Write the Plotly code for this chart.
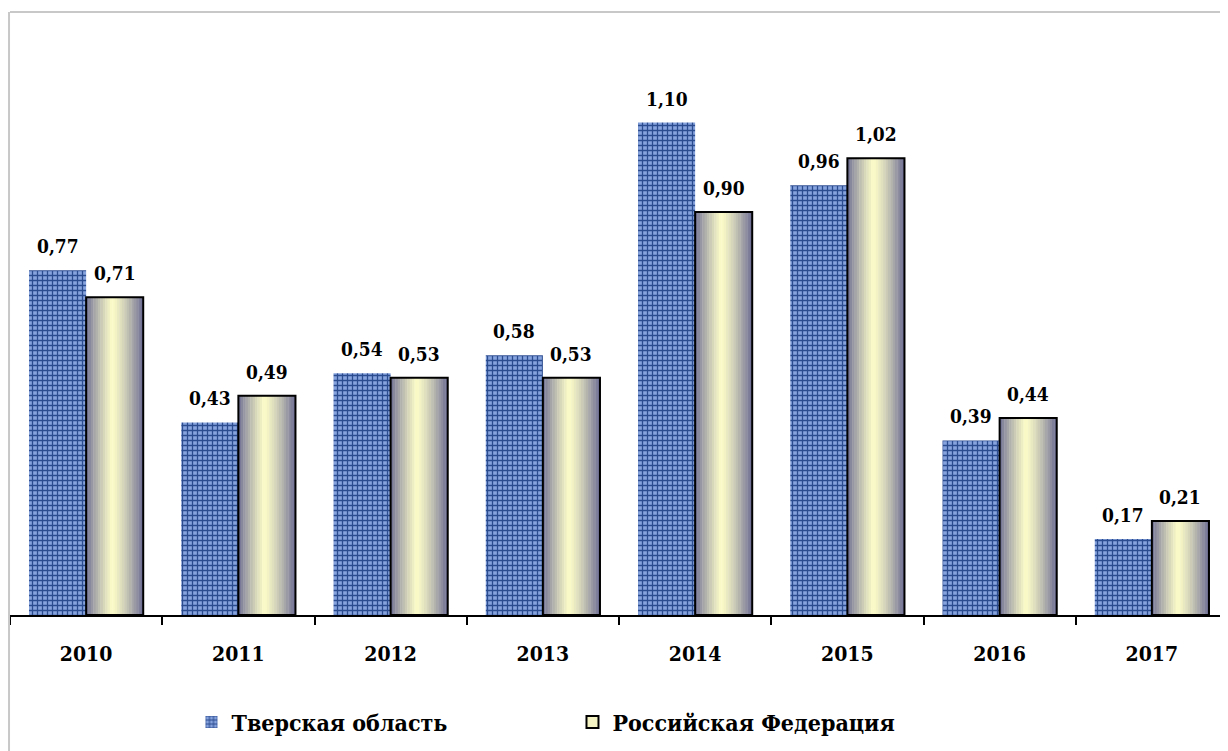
import plotly.graph_objs as go

# Data
years = ['2010', '2011', '2012', '2013', '2014', '2015', '2016', '2017']
tver = [0.77, 0.43, 0.54, 0.58, 1.10, 0.96, 0.39, 0.17]
russia = [0.71, 0.49, 0.53, 0.53, 0.90, 1.02, 0.44, 0.21]
series_names = ['Тверская область', 'Российская Федерация']

FONT = 'DejaVu Serif Condensed'
BAR_W = 0.375


def mix(c1, c2, t):
    return '#%02x%02x%02x' % tuple(int(round(a + (b - a) * t)) for a, b in zip(c1, c2))


def gradient_color(t):
    # dark slate at the edges, pale yellow a bit left of centre
    edge = (0x6a, 0x6a, 0x92)
    mid = (0xfc, 0xfc, 0xc8)
    peak = 0.45
    if t < peak:
        return mix(edge, mid, (t / peak) ** 0.8)
    return mix(mid, edge, ((t - peak) / (1 - peak)) ** 1.3)


traces = []

# Tver region: textured blue bars
traces.append(go.Bar(x=years, y=tver, name='<b>' + series_names[0] + '</b>',
                     offset=-BAR_W, width=BAR_W,
                     marker=dict(color='#7f9bd8',
                                 line=dict(width=0),
                                 pattern=dict(shape='+', size=5, solidity=0.45,
                                              bgcolor='#86a3de', fgcolor='#2c4c90',
                                              fillmode='replace')),
                     hoverinfo='skip'))

# Russian Federation: horizontal gradient built from thin strips
n_strips = 24
sw = BAR_W / n_strips
for k in range(n_strips):
    traces.append(go.Bar(x=years, y=russia, showlegend=False,
                         offset=k * sw, width=sw * 1.15,
                         marker=dict(color=gradient_color((k + 0.5) / n_strips),
                                     line=dict(width=0)),
                         hoverinfo='skip'))

# black outline on top of the gradient
traces.append(go.Bar(x=years, y=russia, showlegend=False,
                     offset=0, width=BAR_W,
                     marker=dict(color='rgba(0,0,0,0)', line=dict(color='black', width=2)),
                     hoverinfo='skip'))

# legend entry for the gradient series
traces.append(go.Bar(x=years, y=[None] * len(years), name='<b>' + series_names[1] + '</b>',
                     marker=dict(color='#f3f3c4', line=dict(color='black', width=2))))

# value labels
annotations = []
for i in range(len(years)):
    for val, dx in ((tver[i], -BAR_W / 2), (russia[i], BAR_W / 2)):
        annotations.append(dict(x=i + dx, y=val, xref='x', yref='y',
                                text='<b>' + f'{val:.2f}'.replace('.', ',') + '</b>',
                                showarrow=False, yanchor='bottom', yshift=11,
                                font=dict(family=FONT, size=19, color='black')))

# page body adds 8px offset, so figure is 8px smaller with margins compensated
layout = go.Layout(
    width=1220, height=743,
    margin=dict(l=2, r=0, t=25, b=136),
    paper_bgcolor='white', plot_bgcolor='white',
    barmode='overlay',
    font=dict(family=FONT, color='black'),
    xaxis=dict(type='category', showline=True, linecolor='black', linewidth=2,
               ticks='outside', tickson='boundaries', ticklen=8, tickwidth=2,
               tickcolor='black', ticklabelstandoff=19, showgrid=False,
               tickfont=dict(family=FONT, size=21, color='black'),
               tickprefix='<b>', ticksuffix='</b>'),
    yaxis=dict(range=[0, 1.3], visible=False, showgrid=False),
    legend=dict(orientation='h', x=0.149, xanchor='left', y=-0.184, yanchor='middle',
                entrywidth=336, entrywidthmode='pixels',
                font=dict(family=FONT, size=23, color='black'),
                bgcolor='rgba(0,0,0,0)'),
    annotations=annotations,
    shapes=[dict(type='line', xref='paper', yref='paper', x0=0, x1=1.01,
                 y0=(615 - 12) / 582, y1=(615 - 12) / 582,
                 line=dict(color='#c8c8c8', width=2)),
            dict(type='line', xref='paper', yref='paper', x0=-0.0008, x1=-0.0008,
                 y0=(615 - 12) / 582, y1=-0.3,
                 line=dict(color='#c8c8c8', width=2))],
    showlegend=True,
)

fig = go.Figure(data=traces, layout=layout)

fig.write_html('out.html')
